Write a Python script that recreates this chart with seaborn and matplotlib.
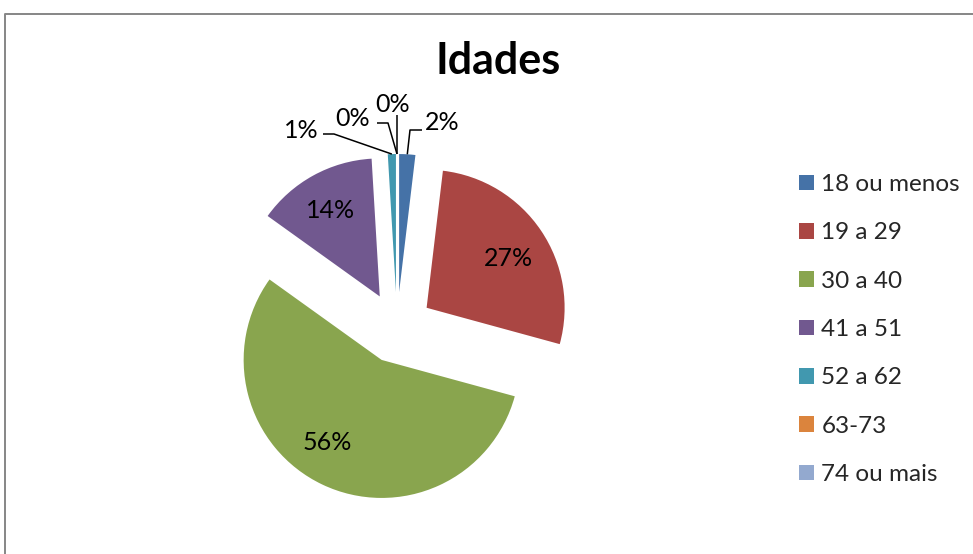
import math
import matplotlib
matplotlib.use("Agg")
import matplotlib.pyplot as plt
import seaborn as sns

# Age groups and respondent counts
categories = ["18 ou menos", "19 a 29", "30 a 40", "41 a 51", "52 a 62", "63-73", "74 ou mais"]
counts = [2, 29, 59, 15, 1, 0, 0]
title = "Idades"

colors = sns.color_palette(["#4572A7", "#AA4643", "#89A54E", "#71588F",
                            "#4198AF", "#DB843D", "#93A9CF"])

sns.set_theme(style="white")
plt.rcParams["font.family"] = ["Lato", "DejaVu Sans"]

W, H = 973, 554
fig = plt.figure(figsize=(W / 100, H / 100), dpi=100)
ax = fig.add_axes([0, 0, 1, 1])


def px(x, y):
    """Pixel position (origin top-left) -> data coordinates."""
    return x, H - y


radius = 138
gap = 35.7
wedges, _, pct_texts = ax.pie(
    counts, colors=colors, startangle=90, counterclock=False,
    center=px(397, 327.7), radius=radius, explode=[gap] * len(counts),
    autopct=lambda p: f"{p:.0f}%", pctdistance=0.71,
    wedgeprops=dict(linewidth=0),
    textprops=dict(fontsize=18, color="black"),
)

# inside labels for the larger slices
inside_pos = {1: (508, 258), 2: (327, 443), 3: (331, 210)}
for i, pos in inside_pos.items():
    pct_texts[i].set_position(px(*pos))
    pct_texts[i].set_va("center")
    pct_texts[i].set_ha("center")

# outside labels with leader lines: label centre, then line path back to the slice
outside = {
    0: ((442, 123), [(422, 130), (410, 130)]),
    4: ((301, 130), [(323, 134), (334, 134)]),
    5: ((353, 118), [(377, 123), (388, 123)]),
    6: ((393, 104), [(397, 115)]),
}
for i, (pos, path) in outside.items():
    t = pct_texts[i]
    t.set_position(px(*pos))
    t.set_ha("center")
    t.set_va("center")
    w = wedges[i]
    mid = math.radians((w.theta1 + w.theta2) / 2)
    tip = (w.center[0] + w.r * math.cos(mid), w.center[1] + w.r * math.sin(mid))
    pts = [px(*p) for p in path] + [tip]
    ax.plot([p[0] for p in pts], [p[1] for p in pts], color="black", lw=1.1,
            solid_capstyle="butt", zorder=3)

ax.text(*px(498.5, 61), title, ha="center", va="center",
        fontsize=31, fontweight="bold", color="black")

ax.legend(wedges, categories, loc="upper left", bbox_to_anchor=px(799, 174),
          bbox_transform=ax.transData, frameon=False, fontsize=17.5,
          handlelength=0.62, handleheight=0.62, handletextpad=0.3,
          labelspacing=1.125, borderpad=0, borderaxespad=0)

# chart area outline (top and left edges)
ax.plot([4.5, 4.5, W], [0, H - 13.5, H - 13.5], color="#868686", lw=1.4,
        clip_on=False, zorder=5)

ax.set_xlim(0, W)
ax.set_ylim(0, H)
ax.set_aspect("equal")
ax.axis("off")

fig.savefig("out.png", dpi=100)
